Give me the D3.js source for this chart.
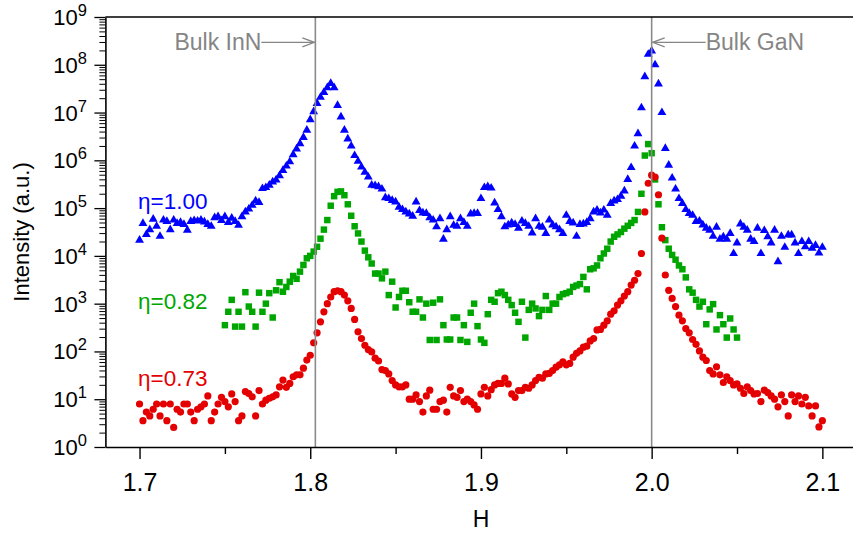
<!DOCTYPE html>
<html><head><meta charset="utf-8">
<script src="https://cdn.jsdelivr.net/npm/d3@7"></script>
<style>
html,body{margin:0;padding:0;background:#fff;}
svg{display:block;}
text{font-family:"Liberation Sans",Arial,Helvetica,sans-serif;}
</style></head><body>
<svg id="chart" width="853" height="537"></svg>
<script>
// ---- data ----
// scan grid: H = start + i*step
const hStep = 0.002;
const blueStart = 1.70, greenStart = 1.75, redStart = 1.70;
// log10(intensity) values, eta = 1.00 (blue triangles)
const blueLog = [
 4.33,4.68,4.45,4.55,4.77,4.62,4.41,4.75,4.72,4.55,
 4.75,4.68,4.70,4.66,4.54,4.72,4.74,4.73,4.75,4.71,
 4.66,4.62,4.80,4.82,4.74,4.82,4.70,4.79,4.72,4.64,
 4.82,4.92,4.98,5.06,5.15,5.12,5.41,5.43,5.48,5.55,
 5.59,5.68,5.79,5.88,5.97,6.12,6.24,6.35,6.48,6.63,
 6.85,7.02,7.19,7.32,7.42,7.52,7.61,7.52,7.15,6.91,
 6.63,6.45,6.30,6.10,5.98,5.86,5.75,5.65,5.48,5.47,
 5.45,5.40,5.22,5.20,5.16,5.13,5.02,4.97,4.92,4.88,
 4.83,5.13,4.95,4.90,4.89,4.80,4.75,4.61,4.78,4.35,
 4.55,4.82,4.64,4.62,4.78,4.70,4.62,4.88,4.89,4.89,
 5.20,5.43,5.45,5.42,5.11,4.97,4.82,4.61,4.65,4.69,
 4.66,4.58,4.73,4.68,4.62,4.48,4.78,4.62,4.60,4.47,
 4.75,4.65,4.61,4.55,4.47,4.85,4.72,4.69,4.41,4.66,
 4.67,4.70,4.78,4.92,4.96,4.90,4.96,4.85,5.10,5.15,
 5.18,5.25,5.36,5.60,5.85,6.30,6.56,7.10,7.75,8.22,
 8.29,8.00,7.60,7.00,6.25,5.90,5.63,5.40,5.20,5.10,
 4.97,4.89,4.85,4.72,4.73,4.65,4.58,4.54,4.41,4.60,
 4.35,4.40,4.35,4.47,4.05,4.27,4.67,4.60,4.54,4.35,
 4.30,4.58,4.05,4.53,4.40,4.27,4.54,3.88,4.41,4.18,
 4.44,4.44,4.27,4.05,4.30,4.19,4.30,4.16,4.22,4.06,
 4.18];
// eta = 0.82 (green squares)
const greenLog = [
 2.55,2.83,3.08,2.52,2.83,2.52,3.24,2.94,2.83,2.52,
 3.23,2.83,3.00,3.22,2.71,3.28,3.45,3.25,3.35,3.46,
 3.58,3.52,3.67,3.81,3.95,4.00,4.09,4.19,4.36,4.55,
 4.75,5.05,5.25,5.34,5.35,5.27,5.08,4.84,4.62,4.47,
 4.30,4.11,3.97,3.84,3.63,3.63,3.53,3.67,3.18,3.46,
 2.92,3.14,3.27,3.27,3.03,2.83,2.83,3.09,2.71,3.00,
 2.24,3.02,2.24,3.09,2.55,2.25,2.25,2.71,2.71,2.24,
 2.55,2.20,2.81,3.00,2.53,2.25,2.18,2.78,3.08,3.04,
 3.22,3.25,3.18,3.08,2.97,2.81,2.62,3.04,2.29,2.87,
 3.00,2.90,2.74,2.87,3.16,2.87,3.00,3.00,3.14,3.20,
 3.22,3.25,3.35,3.38,3.41,3.56,3.30,3.72,3.74,3.80,
 3.95,4.05,4.15,4.30,4.40,4.45,4.50,4.57,4.63,4.69,
 4.75,4.92,5.30,6.10,6.34,6.15,5.60,5.08,4.60,4.33,
 4.15,4.02,3.92,3.80,3.72,3.55,3.30,3.23,3.08,2.94,
 3.04,2.57,2.88,2.99,2.46,2.76,2.57,2.29,2.69,2.46,
 2.29];
// eta = 0.73 (red circles)
const redLog = [
 0.90,0.55,0.73,0.65,0.79,0.90,0.65,0.90,0.55,0.90,
 0.41,0.79,0.73,0.90,0.90,0.73,0.55,0.79,0.84,0.90,
 1.07,0.55,0.73,0.90,1.04,0.95,0.84,1.11,0.95,0.55,
 0.65,1.16,1.12,1.05,0.65,1.18,0.90,0.98,1.02,1.05,
 1.09,1.26,1.40,1.25,1.33,1.47,1.51,1.51,1.65,1.82,
 1.92,2.18,2.39,2.62,2.83,3.00,3.14,3.25,3.27,3.25,
 3.18,3.06,2.90,2.67,2.41,2.27,2.13,2.04,1.99,1.86,
 1.80,1.62,1.60,1.53,1.39,1.30,1.26,1.26,1.30,1.00,
 1.00,1.09,0.95,0.73,1.07,1.19,0.79,0.79,0.95,0.98,
 0.73,1.25,1.07,1.04,1.18,0.95,1.00,0.95,0.88,0.79,
 1.11,1.25,1.07,1.20,1.30,1.33,1.33,1.44,1.32,1.11,
 1.04,1.18,1.18,1.25,1.23,1.30,1.39,1.46,1.44,1.53,
 1.54,1.60,1.67,1.72,1.78,1.72,1.75,1.88,1.96,2.01,
 2.09,2.11,2.22,2.27,2.45,2.46,2.55,2.64,2.78,2.85,
 2.97,3.06,3.16,3.25,3.39,3.49,3.63,4.05,4.92,5.52,
 5.69,5.65,5.28,4.37,3.60,3.28,3.11,2.94,2.76,2.64,
 2.48,2.39,2.25,2.15,2.01,1.88,1.81,1.60,1.53,1.68,
 1.51,1.35,1.47,1.39,1.30,1.32,1.23,1.12,1.26,1.18,
 1.11,1.12,0.95,1.19,1.14,1.07,1.00,0.84,1.09,0.95,
 0.65,1.09,0.95,1.07,0.90,1.04,0.86,0.65,0.86,0.42,
 0.55];

const seriesNames = ["η=1.00","η=0.82","η=0.73"];
const xTickValues = [1.7,1.8,1.9,2.0,2.1];
const xMinorTickValues = [1.75,1.85,1.95,2.05];
const yExponents = [0,1,2,3,4,5,6,7,8,9];
const refLines = [{h:1.803,label:"Bulk InN"},{h:2.0,label:"Bulk GaN"}];

// ---- drawing ----
const svg = d3.select("#chart");
const x = d3.scaleLinear().domain([1.68,2.12]).range([105.4,856.5]);
const y = d3.scaleLog().domain([1,1e9]).range([447,17]);

function build(start, logs){
  return logs.map((v,i)=>({h: start + i*hStep, I: Math.pow(10,v)}));
}
const series = [
  {name:seriesNames[0], color:"#0000ff", data:build(blueStart,blueLog), shape:"tri", lx:138, ly:209},
  {name:seriesNames[1], color:"#00a600", data:build(greenStart,greenLog), shape:"sq", lx:138, ly:309},
  {name:seriesNames[2], color:"#e40000", data:build(redStart,redLog), shape:"circ", lx:138, ly:386}
];

// markers
const triPath = d3.symbol(d3.symbolTriangle, 34)();
const sqPath = d3.symbol(d3.symbolSquare, 42)();
series.forEach(s=>{
  const g = svg.append("g");
  if(s.shape==="circ"){
    g.selectAll("circle").data(s.data).join("circle")
      .attr("cx",d=>x(d.h)).attr("cy",d=>y(d.I)).attr("r",3.6).attr("fill",s.color);
  } else {
    g.selectAll("path").data(s.data).join("path")
      .attr("d", s.shape==="tri"?triPath:sqPath)
      .attr("transform",d=>`translate(${x(d.h)},${y(d.I)})`)
      .attr("fill",s.color);
  }
  svg.append("text").attr("x",s.lx).attr("y",s.ly).attr("fill",s.color)
    .attr("font-size",22.5).text(s.name);
});

// reference lines + annotations
const grey = "#858585";
refLines.forEach((r,i)=>{
  const xv = x(r.h);
  svg.append("line").attr("x1",xv).attr("x2",xv).attr("y1",y(1e9)).attr("y2",y(1))
    .attr("stroke","#8a8a8a").attr("stroke-width",1.6);
  const ay = 42.3;
  const dir = i===0 ? -1 : 1; // side where the text is
  const tail = xv + dir*54;
  svg.append("line").attr("x1",tail).attr("x2",xv+dir*1).attr("y1",ay).attr("y2",ay)
    .attr("stroke",grey).attr("stroke-width",1.3);
  svg.append("path")
    .attr("d",`M${xv+dir*13},${ay-4.5}L${xv+dir*1},${ay}L${xv+dir*13},${ay+4.5}`)
    .attr("fill","none").attr("stroke",grey).attr("stroke-width",1.3);
  svg.append("text").attr("x", i===0 ? tail : tail).attr("y",50)
    .attr("text-anchor", i===0 ? "end":"start")
    .attr("font-size",23).attr("fill",grey).text(r.label);
});

// frame top / right
svg.append("path")
  .attr("d",`M${x.range()[0]},${y(1e9)}H${x.range()[1]}V${y(1)}`)
  .attr("fill","none").attr("stroke","#000").attr("stroke-width",1.6);

// x axis
const xAxis = svg.append("g").attr("transform",`translate(0,${y(1)})`)
  .call(d3.axisBottom(x).tickValues(xTickValues).tickSize(12).tickSizeOuter(0)
        .tickPadding(14).tickFormat(d3.format(".1f")));
xAxis.select(".domain").attr("stroke-width",1.6);
xAxis.selectAll(".tick line").attr("stroke-width",1.4);
xAxis.selectAll("text").attr("font-family",'"Liberation Sans Narrow","Arial Narrow","Liberation Sans",sans-serif')
  .attr("font-size",25).attr("fill","#000");
const xMinor = svg.append("g").attr("transform",`translate(0,${y(1)})`)
  .call(d3.axisBottom(x).tickValues(xMinorTickValues).tickSize(7).tickFormat(""));
xMinor.select(".domain").remove();
xMinor.selectAll(".tick line").attr("stroke-width",1.4);

// y axis
const majors = yExponents.map(k=>Math.pow(10,k));
const minors = [];
yExponents.slice(0,-1).forEach(k=>{ for(let m=2;m<=9;m++) minors.push(m*Math.pow(10,k)); });
const yAxis = svg.append("g").attr("transform",`translate(${x.range()[0]},0)`)
  .call(d3.axisLeft(y).tickValues(majors).tickSize(11).tickSizeOuter(0).tickFormat(""));
yAxis.select(".domain").attr("stroke-width",1.6);
yAxis.selectAll(".tick line").attr("stroke-width",1.3);
const yMinor = svg.append("g").attr("transform",`translate(${x.range()[0]},0)`)
  .call(d3.axisLeft(y).tickValues(minors).tickSize(6).tickFormat(""));
yMinor.select(".domain").remove();
yMinor.selectAll(".tick line").attr("stroke-width",1);

const yl = svg.append("g");
yExponents.forEach(k=>{
  const t = yl.append("text").attr("x",87).attr("y",y(Math.pow(10,k))+8)
    .attr("text-anchor","end").attr("fill","#000");
  t.append("tspan").attr("font-size",22).text("10");
  t.append("tspan").attr("font-size",16.5).attr("dy",-9).text(String(k));
});

// axis titles
svg.append("text").attr("transform",`translate(29,${(y(1)+y(1e9))/2}) rotate(-90)`)
  .attr("text-anchor","middle").attr("font-size",22).text("Intensity (a.u.)");
svg.append("text").attr("x",x(1.9)).attr("y",527).attr("text-anchor","middle")
  .attr("font-size",23).text("H");
</script>
</body></html>
